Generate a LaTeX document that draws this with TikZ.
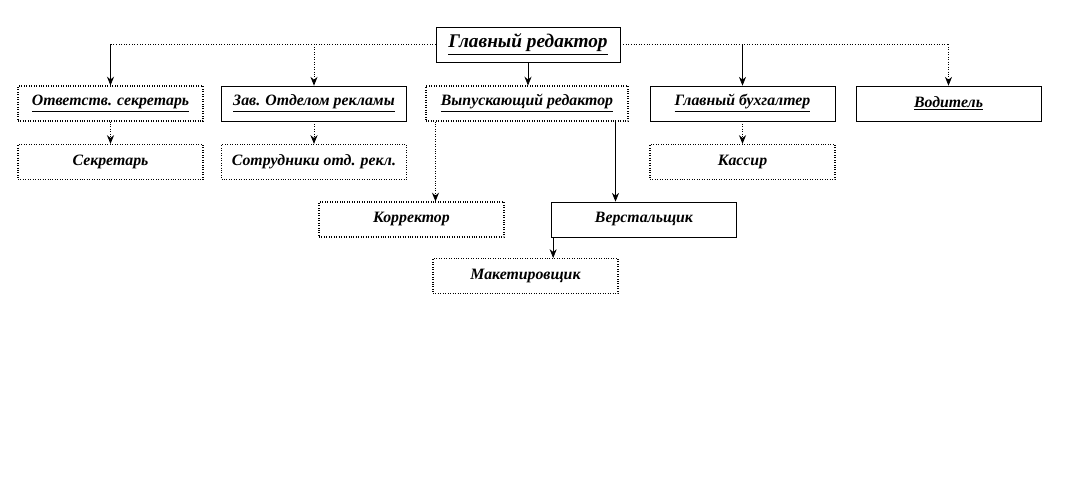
\documentclass[tikz,border=0pt]{standalone}
\usepackage{fontspec}
\setmainfont{Liberation Serif}
\usetikzlibrary{arrows.meta,positioning}

\begin{document}
\begin{tikzpicture}[x=0.02cm,y=-0.02cm,
    box/.style={draw=black,thin,minimum width=3.7cm,minimum height=0.7cm,inner sep=1pt,
      font=\fontsize{9}{10}\selectfont\bfseries\itshape},
    boxd/.style={box,densely dotted,line width=0.6pt},
    arr/.style={thin,-{Stealth[length=5pt,width=4pt]}},
    dotarr/.style={arr,densely dotted,line width=0.5pt},
    dotline/.style={densely dotted,line width=0.5pt}]
  \useasboundingbox (0,0) rectangle (1066,500);
  % top level
  \node[box,minimum width=3.68cm,font=\fontsize{11}{12}\selectfont\bfseries\itshape] (glred) at (528,44.5) {\underline{Главный редактор}};
  % second level
  \node[boxd] (otvsek) at (110.5,103.5) {\underline{Ответств. секретарь}};
  \node[box] (zavrekl) at (314,103.5) {\underline{Зав. Отделом рекламы}};
  \node[boxd,minimum width=4.04cm] (vypred) at (527,103.5) {\underline{Выпускающий редактор}};
  \node[box] (glbuh) at (742.5,103.5) {\underline{Главный бухгалтер}};
  \node[box] (vod) at (948.5,103.5) {\underline{Водитель}};
  % third level
  \node[boxd] (sekr) at (110.5,162) {Секретарь};
  \node[boxd] (sotr) at (314,162) {Сотрудники отд. рекл.};
  \node[boxd] (kassir) at (742.5,162) {Кассир};
  \node[boxd] (korr) at (411.5,219.5) {Корректор};
  \node[box] (verst) at (644,219.5) {Верстальщик};
  \node[boxd] (maket) at (525.5,276) {Макетировщик};

  % top bus
  \coordinate (tl) at (otvsek.north |- glred.west);
  \coordinate (tr) at (vod.north |- glred.east);
  \draw[dotline] (glred.west) -- (tl);
  \draw[dotline] (glred.east) -- (tr);
  \draw[arr] (tl) -- (otvsek.north);
  \draw[dotarr] (zavrekl.north |- glred.west) -- (zavrekl.north);
  \draw[arr] (glred.south) -- (vypred.north -| glred.south);
  \draw[arr] (glbuh.north |- glred.east) -- (glbuh.north);
  \draw[dotarr] (tr) -- (vod.north);

  % lower links
  \draw[dotarr] (otvsek) -- (sekr);
  \draw[dotarr] (zavrekl) -- (sotr);
  \draw[dotarr] (glbuh) -- (kassir);
  \draw[dotarr] ([xshift=0.2cm]vypred.south west) -- ([xshift=0.2cm]vypred.south west |- korr.north);
  \draw[arr] ([xshift=-0.26cm]vypred.south east) -- ([xshift=-0.26cm]vypred.south east |- verst.north);
  \draw[arr] ([xshift=0.04cm]verst.south west) -- ([xshift=0.04cm]verst.south west |- maket.north);
\end{tikzpicture}
\end{document}
